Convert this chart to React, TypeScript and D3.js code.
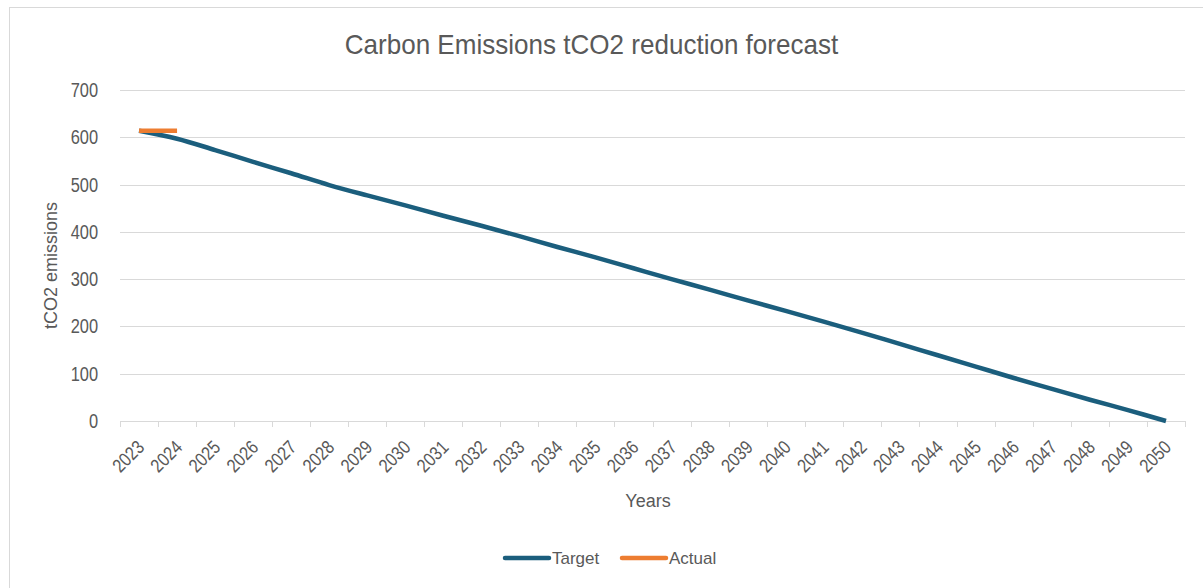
import { useEffect, useRef } from "react";
import * as d3 from "d3";

// 데이터
const years = [
  "2023", "2024", "2025", "2026", "2027", "2028", "2029", "2030", "2031", "2032",
  "2033", "2034", "2035", "2036", "2037", "2038", "2039", "2040", "2041", "2042",
  "2043", "2044", "2045", "2046", "2047", "2048", "2049", "2050",
];
const targetValues = [
  614, 597, 573, 548, 524, 499, 477, 456, 434, 413,
  391, 368, 346, 323, 300, 278, 255, 233, 210, 187,
  163, 139, 115, 91, 68, 45, 23, 0,
];
const actualYears = ["2023", "2024"];
const actualValues = [614, 614];
const yTicks = [0, 100, 200, 300, 400, 500, 600, 700];

const TARGET_COLOR = "#1b5e7d";
const ACTUAL_COLOR = "#ed7d31";
const TEXT_COLOR = "#595959";
const GRID_COLOR = "#d9d9d9";
const FONT = "'Liberation Sans', Arial, sans-serif";

// 글자 폭 줄이기 (Arial Narrow 느낌)
const narrow = (sel: d3.Selection<SVGTextElement, any, any, any>, factor: number) => {
  sel.each(function () {
    const len = this.getComputedTextLength();
    d3.select(this).attr("textLength", len * factor).attr("lengthAdjust", "spacingAndGlyphs");
  });
};

const App = () => {
  const svgRef = useRef<SVGSVGElement>(null);

  useEffect(() => {
    if (!svgRef.current) return;
    const svg = d3.select(svgRef.current);
    svg.selectAll("*").remove();

    const width = 1203;
    const height = 588;
    const margin = { top: 90, right: 18, bottom: 167, left: 120 };
    const innerWidth = width - margin.left - margin.right;
    const innerHeight = height - margin.top - margin.bottom;

    svg.attr("width", width).attr("height", height);

    // 바깥 테두리
    svg
      .append("rect")
      .attr("x", 9.5)
      .attr("y", 7.5)
      .attr("width", width)
      .attr("height", height)
      .attr("fill", "#fff")
      .attr("stroke", GRID_COLOR);

    // 제목
    const title = svg
      .append("text")
      .attr("x", 591.5)
      .attr("y", 54)
      .attr("text-anchor", "middle")
      .attr("fill", TEXT_COLOR)
      .style("font-family", FONT)
      .style("font-size", "28px")
      .text("Carbon Emissions tCO2 reduction forecast");
    narrow(title as any, 0.93);

    const g = svg.append("g").attr("transform", `translate(${margin.left}, ${margin.top})`);

    const xScale = d3.scaleBand().domain(years).range([0, innerWidth]);
    const yScale = d3.scaleLinear().domain([0, 700]).range([innerHeight, 0]);
    const cx = (d: string) => (xScale(d) ?? 0) + xScale.bandwidth() / 2;

    // 그리드
    g.selectAll(".grid")
      .data(yTicks.filter((t) => t > 0))
      .enter()
      .append("line")
      .attr("x1", 0)
      .attr("x2", innerWidth)
      .attr("y1", (d) => Math.round(yScale(d)) + 0.5)
      .attr("y2", (d) => Math.round(yScale(d)) + 0.5)
      .attr("stroke", GRID_COLOR);

    // y축 라벨
    const yLabels = g
      .selectAll(".ytick")
      .data(yTicks)
      .enter()
      .append("text")
      .attr("x", -22)
      .attr("y", (d) => yScale(d))
      .attr("dy", "0.35em")
      .attr("text-anchor", "end")
      .attr("fill", TEXT_COLOR)
      .style("font-family", FONT)
      .style("font-size", "20px")
      .text((d) => d);
    narrow(yLabels as any, 0.82);

    // x축
    g.append("line")
      .attr("x1", 0)
      .attr("x2", innerWidth)
      .attr("y1", innerHeight + 0.5)
      .attr("y2", innerHeight + 0.5)
      .attr("stroke", GRID_COLOR);

    const boundaries = [...years.map((d) => xScale(d) ?? 0), innerWidth];
    g.selectAll(".xtickline")
      .data(boundaries)
      .enter()
      .append("line")
      .attr("x1", (d) => Math.round(d) + 0.5)
      .attr("x2", (d) => Math.round(d) + 0.5)
      .attr("y1", innerHeight)
      .attr("y2", innerHeight + 6)
      .attr("stroke", GRID_COLOR);

    const xLabels = g
      .selectAll(".xlabel")
      .data(years)
      .enter()
      .append("text")
      .attr("transform", (d) => `translate(${cx(d) - 3}, ${innerHeight + 18}) rotate(-45)`)
      .attr("text-anchor", "end")
      .attr("dy", "0.7em")
      .attr("fill", TEXT_COLOR)
      .style("font-family", FONT)
      .style("font-size", "19px")
      .text((d) => d);
    narrow(xLabels as any, 0.84);

    // 축 제목
    g.append("text")
      .attr("x", 528)
      .attr("y", innerHeight + 86)
      .attr("text-anchor", "middle")
      .attr("fill", TEXT_COLOR)
      .style("font-family", FONT)
      .style("font-size", "18px")
      .text("Years");

    g.append("text")
      .attr("transform", `translate(-63, ${innerHeight / 2 + 10}) rotate(-90)`)
      .attr("text-anchor", "middle")
      .attr("fill", TEXT_COLOR)
      .style("font-family", FONT)
      .style("font-size", "18px")
      .text("tCO2 emissions");

    // 선
    const targetData = years.map((y, i) => ({ year: y, value: targetValues[i] }));
    const actualData = actualYears.map((y, i) => ({ year: y, value: actualValues[i] }));

    const lineGenerator = d3
      .line<{ year: string; value: number }>()
      .x((d) => cx(d.year))
      .y((d) => yScale(d.value))
      .curve(d3.curveCatmullRom);

    g.append("path")
      .attr("d", lineGenerator(targetData))
      .attr("fill", "none")
      .attr("stroke", TARGET_COLOR)
      .attr("stroke-width", 4.5)
      .attr("stroke-linejoin", "round");

    g.append("path")
      .attr("d", lineGenerator(actualData))
      .attr("fill", "none")
      .attr("stroke", ACTUAL_COLOR)
      .attr("stroke-width", 4.5);

    // 범례
    const legendItems = [
      { name: "Target", color: TARGET_COLOR, x: 505 },
      { name: "Actual", color: ACTUAL_COLOR, x: 622 },
    ];
    const legend = svg.append("g").attr("transform", "translate(0, 558)");
    legendItems.forEach((item) => {
      legend
        .append("line")
        .attr("x1", item.x)
        .attr("x2", item.x + 44)
        .attr("y1", 0)
        .attr("y2", 0)
        .attr("stroke", item.color)
        .attr("stroke-width", 4.5)
        .attr("stroke-linecap", "round");
      legend
        .append("text")
        .attr("x", item.x + 47)
        .attr("y", 0)
        .attr("dy", "0.35em")
        .attr("fill", TEXT_COLOR)
        .style("font-family", FONT)
        .style("font-size", "17px")
        .text(item.name);
    });
  }, []);

  return (
    <div style={{ position: "absolute", left: 0, top: 0, width: 1203, height: 588, overflow: "hidden" }}>
      <svg ref={svgRef} style={{ display: "block" }}></svg>
    </div>
  );
};

export default App;
